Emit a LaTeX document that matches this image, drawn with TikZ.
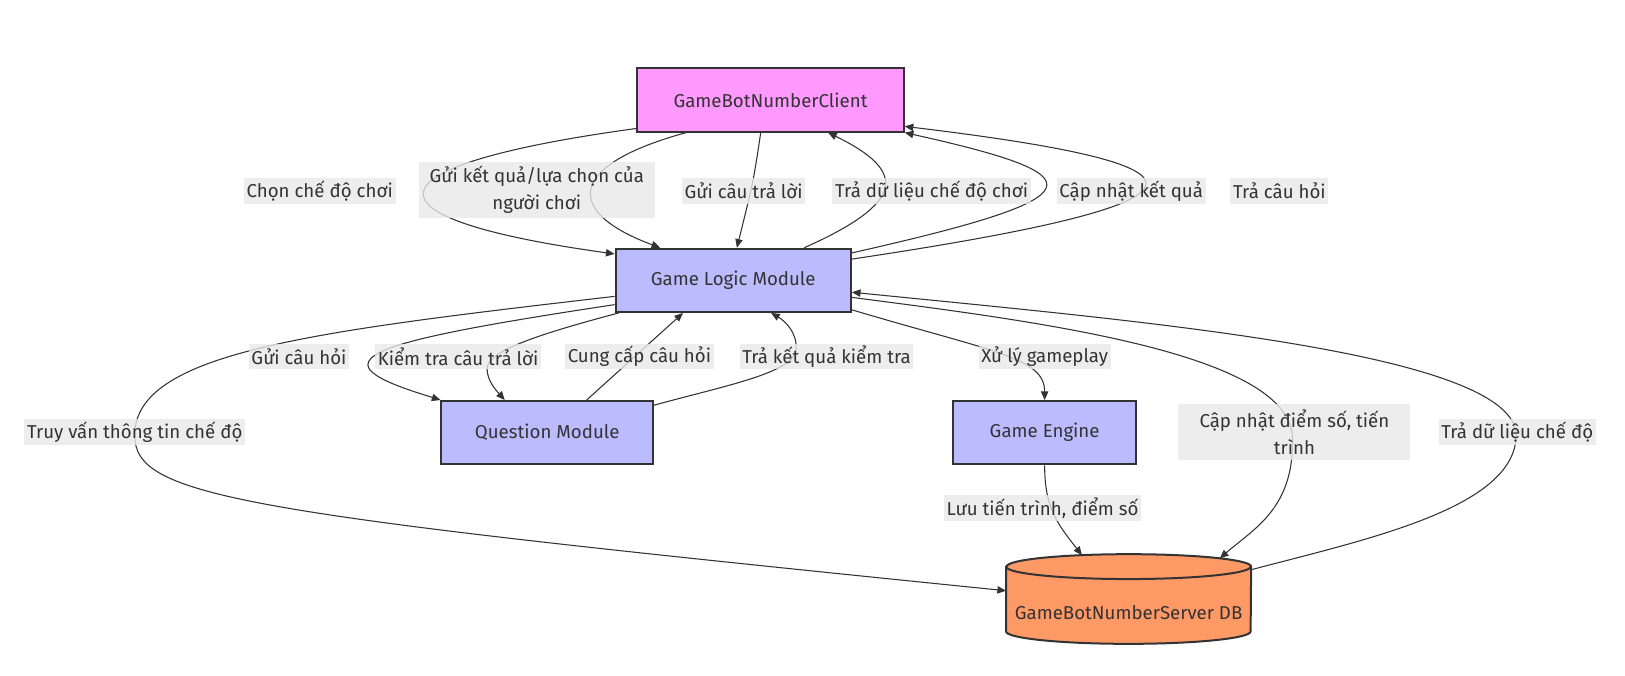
\documentclass[tikz,border=0pt]{standalone}
\usepackage{fontspec}
\setmainfont{Fira Sans}
\usetikzlibrary{arrows.meta,calc}
\definecolor{edgec}{HTML}{333333}
\definecolor{lblbg}{HTML}{E8E8E8}
\definecolor{pinkc}{HTML}{FF99FF}
\definecolor{lav}{HTML}{BBBBFF}
\definecolor{orng}{HTML}{FF9966}
\def\U{0.7773pt}
\begin{document}
\begin{tikzpicture}[x=0.7773pt, y=-0.7773pt,
  box/.style={draw=edgec, line width=1.5pt, minimum height=61*\U, inner sep=0pt, font=\fontsize{14}{16}\selectfont, text=edgec},
  lbl/.style={fill=lblbg, fill opacity=0.8, text opacity=1, text=edgec, inner xsep=2pt, inner ysep=0pt, minimum height=25*\U, font=\fontsize{14}{20.5}\selectfont, align=center},
  conn/.style={draw=edgec, line width=0.8pt, -{Triangle[length=6.5pt,width=5.5pt]}},
  dbnode/.style={inner sep=0pt, minimum width=236*\U, minimum height=86*\U},
  dbshape/.style={draw=edgec, line width=1.5pt, fill=orng},
]
\useasboundingbox (0,0) rectangle (1568,652);

% nodes
\node[box, fill=pinkc, minimum width=257*\U] (client) at (743.5,96.5) {GameBotNumberClient};
\node[box, fill=lav, minimum width=227*\U] (logic) at (707.5,270.5) {Game Logic Module};
\node[box, fill=lav, minimum width=204*\U] (qm) at (528,417.5) {Question Module};
\node[box, fill=lav, minimum width=176*\U] (eng) at (1008,417.5) {Game Engine};
\node[dbnode] (db) at (1089,578) {};
\path[dbshape] ($(db.north west)+(0,12)$) -- ($(db.south west)+(0,-12)$)
   arc[start angle=180, end angle=0, x radius=118, y radius=12]
   -- ($(db.north east)+(0,12)$)
   arc[start angle=0, end angle=-180, x radius=118, y radius=12] -- cycle;
\draw[edgec, line width=1.5pt] ($(db.north west)+(0,12)$) arc[start angle=180, end angle=0, x radius=118, y radius=12];
\node[font=\fontsize{14}{16}\selectfont, text=edgec, inner sep=0pt] (dbtext) at ($(db.center)+(0,13)$) {GameBotNumberServer DB};

% edges top
\draw[conn] ($(client.south west)+(0,-4)$) .. controls (350,160) and (340,210) .. ($(logic.north west)+(0,6)$);
\draw[conn] ($(client.south west)+(48,0)$) .. controls (545,160) and (545,205) .. ($(logic.north west)+(44,0)$);
\draw[conn] ($(client.south west)+(120,0)$) .. controls (727,175) .. ($(logic.north west)+(118,0)$);
\draw[conn] ($(logic.north west)+(183,0)$) .. controls (875,195) and (875,165) .. ($(client.south west)+(185,0)$);
\draw[conn] ($(logic.north east)+(0,5)$) .. controls (1062,190) and (1062,170) .. (client.south east);
\draw[conn] ($(logic.north east)+(0,11)$) .. controls (1190,195) and (1190,160) .. ($(client.south east)+(0,-6)$);

% edges middle
\draw[conn] ($(logic.south west)+(0,-16)$) .. controls (300,320) and (130,340) .. (130,420)
   .. controls (130,480) and (230,495) .. ($(db.west)+(0,-8)$);
\draw[conn] ($(logic.south west)+(0,-8)$) .. controls (420,320) and (355,335) .. (355,352)
   .. controls (355,365) and (400,378) .. (qm.north west);
\draw[conn] ($(logic.south west)+(4,0)$) .. controls (510,325) and (470,340) .. (470,356)
   .. controls (470,368) and (480,378) .. ($(qm.north west)+(62,0)$);
\draw[conn] ($(qm.north west)+(141,0)$) -- ($(logic.south west)+(66,0)$);
\draw[conn] ($(qm.north east)+(0,5)$) .. controls (700,372) and (765,360) .. (768,338)
   .. controls (770,322) and (758,310) .. ($(logic.south west)+(151,0)$);
\draw[conn] ($(logic.south east)+(0,-3)$) .. controls (960,340) and (1008,345) .. (eng.north);
\draw[conn] ($(logic.south east)+(0,-15)$) .. controls (1000,310) and (1240,340) .. (1247,420)
   .. controls (1250,490) and (1210,510) .. ($(db.north)+(88,4)$);
\draw[conn] ($(db.north east)+(0,15)$) .. controls (1320,520) and (1462,490) .. (1463,420)
   .. controls (1462,340) and (1100,310) .. ($(logic.south east)+(0,-20)$);
\draw[conn] (eng.south) .. controls (1008,490) and (1020,505) .. ($(db.north)+(-45,1)$);

% labels
\node[lbl] (l1) at (308.5,184.5) {Chọn chế độ chơi};
\node[lbl, minimum width=228*\U, minimum height=54*\U] (l2) at (518,183) {Gửi kết quả/lựa chọn của\\người chơi};
\node[lbl] (l3) at (717.5,184.5) {Gửi câu trả lời};
\node[lbl] (l4) at (899,184.5) {Trả dữ liệu chế độ chơi};
\node[lbl] (l5) at (1091.5,184.5) {Cập nhật kết quả};
\node[lbl] (l6) at (1234.5,184.5) {Trả câu hỏi};
\node[lbl] (l7) at (288.5,344) {Gửi câu hỏi};
\node[lbl] (l8) at (442,344) {Kiểm tra câu trả lời};
\node[lbl] (l9) at (617,344) {Cung cấp câu hỏi};
\node[lbl] (l10) at (797.5,344) {Trả kết quả kiểm tra};
\node[lbl] (l11) at (1008,344) {Xử lý gameplay};
\node[lbl] (l12) at (130,417) {Truy vấn thông tin chế độ};
\node[lbl, minimum width=224*\U, minimum height=54*\U] (l13) at (1249,417) {Cập nhật điểm số, tiến\\trình};
\node[lbl] (l14) at (1464,417) {Trả dữ liệu chế độ};
\node[lbl] (l15) at (1006,490) {Lưu tiến trình, điểm số};
\end{tikzpicture}
\end{document}
